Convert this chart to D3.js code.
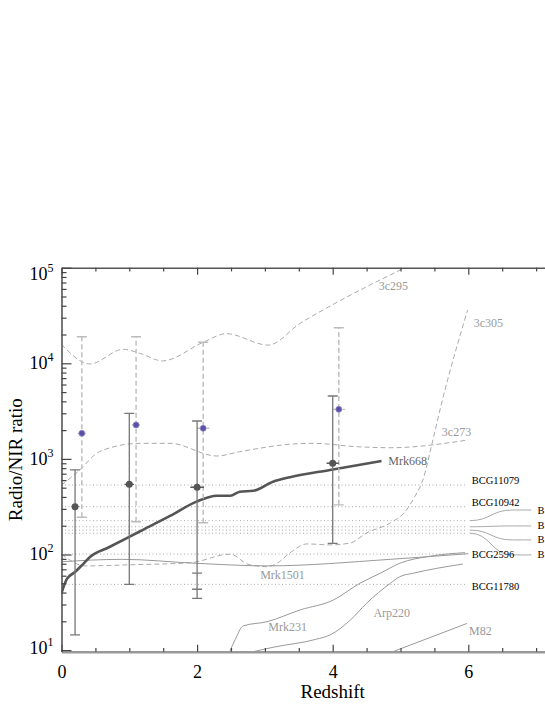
<!DOCTYPE html>
<html><head><meta charset="utf-8">
<script src="https://cdn.jsdelivr.net/npm/d3@7"></script>
<style>body{margin:0;background:#fff}svg{display:block}
svg text{font-family:"Liberation Serif","Tinos","Times New Roman","Nimbus Roman","DejaVu Serif",serif;}</style>
</head><body><svg id="c" width="545" height="705"></svg>
<script>
// ---------------- data ----------------
const xMajorTicks = [0, 2, 4, 6];
const xMinorTicks = [0.5, 1, 1.5, 2.5, 3, 3.5, 4.5, 5, 5.5, 6.5, 7, 7.5];
const yExponents = [1, 2, 3, 4, 5];

const t3c295 = [[0,15800],[0.42,9850],[0.91,14000],[1.16,12700],[1.49,10600],[2.09,16600],[2.43,20400],[3.05,15500],[3.52,26200],[3.99,40700],[4.6,68700],[4.85,84000],[5.06,100000]];
const t3c273 = [[0,533],[0.27,766],[0.52,1146],[0.72,1309],[1.16,1455],[1.6,1455],[2.29,1072],[2.63,1189],[3.42,1432],[3.71,1455],[4.35,1343],[4.85,1309],[6.0,1578]];
const t3c305 = [[0,101],[0.35,76],[1.01,78],[1.9,82],[2.49,101],[2.75,79],[3.03,74.5],[3.18,81],[3.37,104],[3.62,129],[3.96,126],[4.26,132],[4.5,168],[4.85,214],[5.07,281],[5.21,403],[5.33,602],[5.46,1397],[5.6,3664],[5.99,36140]];
const tMrk1501 = [[0,84],[0.89,89],[1.97,81],[3.03,76],[4.85,89],[5.5,96],[6.0,102]];
const tMrk231 = [[2.47,9.3],[2.56,12.8],[2.68,17.9],[3.03,19.8],[3.52,26.3],[4.01,33.4],[4.4,50],[4.7,63.6],[4.99,81],[5.44,96],[5.95,104.5]];
const tArp220 = [[2.74,9.3],[3.12,10.7],[3.76,13],[3.96,14.4],[4.26,20.6],[4.5,30.9],[4.85,50],[4.99,58.6],[5.18,63.5],[5.92,79.4]];
const tM82 = [[4.85,9.4],[5.98,19]];
const tMrk668 = [[0,39.5],[0.08,55.5],[0.2,65.6],[0.3,77],[0.42,94.2],[0.7,119],[1.16,175],[1.6,253],[1.99,357],[2.29,412],[2.49,412],[2.63,454],[2.83,465],[3.12,578],[3.37,643],[3.96,766],[4.72,950]];

const bcgNames = ["BCG11079", "BCG10942", "BCG2596", "BCG11780"];
const bcgValues = [533, 316, 101, 48.7];
const bcgLabelValues = [588, 352, 99, 46.8];
const bcgHiddenValues = [226, 195, 180, 167];
const bcgHiddenLabelValues = [292, 199, 142, 99];
const bcgHiddenText = ["B", "B", "B", "B"];

const darkZ = [0.2, 1.0, 2.0, 4.0];
const darkVal = [316, 542, 505, 900];
const darkHi = [766, 3000, 2490, 4550];
const darkLo = [14.4, 48.7, 34.8, 131];
const darkZErr = [0.05, 0.07, 0.1, 0.09];
const extraZ = [2.0], extraLo = [43.3], extraHi = [63.8];

const blueZ = [0.3, 1.1, 2.09, 4.09];
const blueVal = [1850, 2265, 2090, 3300];
const blueHi = [18970, 18970, 16600, 23550];
const blueLo = [245, 220, 215, 330];
const blueZErr = [0.06, 0.06, 0.09, 0.09];

const templateLabels = [
  ["3c295", 4.68, 64400], ["3c305", 6.08, 26300], ["3c273", 5.61, 1910],
  ["Mrk1501", 2.93, 61], ["Mrk231", 3.05, 17.5], ["Arp220", 4.6, 24.4], ["M82", 6.01, 15.9]
];
const mrk668Label = ["Mrk668", 4.82, 950];

// ---------------- drawing ----------------
const svg = d3.select("#c");
svg.append("rect").attr("width",545).attr("height",705).attr("fill","#fff");
const L = 61.5, R = 603.9, T = 267.7, B = 651.7;
const x = d3.scaleLinear().domain([0, 8]).range([L, R]);
const y = d3.scaleLog().domain([9.62, 1e5]).range([B, T]);

svg.append("defs").append("clipPath").attr("id","clip")
  .append("rect").attr("x",L).attr("y",T).attr("width",R-L).attr("height",B-T);
const plot = svg.append("g").attr("clip-path","url(#clip)");

const line = d3.line().x(d=>x(d[0])).y(d=>y(d[1])).curve(d3.curveMonotoneX);

// dotted BCG levels
const allLevels = bcgValues.concat(bcgHiddenValues);
plot.selectAll("line.lvl").data(allLevels).join("line")
  .attr("x1", x(0)).attr("x2", x(5.98))
  .attr("y1", d=>y(d)).attr("y2", d=>y(d))
  .attr("stroke","#aaa").attr("stroke-width",1).attr("stroke-dasharray","1,2.5");

// connectors for the right-hand BCG labels
const bump = d3.line().x(d=>x(d[0])).y(d=>y(d[1])).curve(d3.curveBumpX);
bcgHiddenValues.forEach((v,i)=>{
  plot.append("path").attr("d", bump([[6.02,v],[6.65,bcgHiddenLabelValues[i]],[6.93,bcgHiddenLabelValues[i]]]))
    .attr("fill","none").attr("stroke","#aaa").attr("stroke-width",1);
});

// templates
[t3c295, t3c273, t3c305].forEach(t=>plot.append("path").attr("d", line(t)).attr("fill","none")
  .attr("stroke","#aaa").attr("stroke-width",1).attr("stroke-dasharray","5,3"));
[tMrk1501, tMrk231, tArp220, tM82].forEach(t=>plot.append("path").attr("d", line(t)).attr("fill","none")
  .attr("stroke","#999").attr("stroke-width",1));
plot.append("path").attr("d", line(tMrk668)).attr("fill","none")
  .attr("stroke","#555").attr("stroke-width",2.6);

// blue (dashed) error bars
blueZ.forEach((z,i)=>{
  const g = plot.append("g").attr("stroke","#bbb").attr("stroke-width",1.4).attr("fill","none");
  g.append("line").attr("x1",x(z)).attr("x2",x(z)).attr("y1",y(blueLo[i])).attr("y2",y(blueHi[i])).attr("stroke-dasharray","5,3");
  [blueLo[i], blueHi[i]].forEach(v=>g.append("line").attr("x1",x(z)-5).attr("x2",x(z)+5).attr("y1",y(v)).attr("y2",y(v)));
  g.append("line").attr("x1",x(z-blueZErr[i])).attr("x2",x(z+blueZErr[i])).attr("y1",y(blueVal[i])).attr("y2",y(blueVal[i])).attr("stroke-dasharray","3,2");
});
// dark error bars
darkZ.forEach((z,i)=>{
  const g = plot.append("g").attr("stroke","#777").attr("stroke-width",1.3);
  g.append("line").attr("x1",x(z)).attr("x2",x(z)).attr("y1",y(darkLo[i])).attr("y2",y(darkHi[i]));
  [darkLo[i], darkHi[i]].forEach(v=>g.append("line").attr("x1",x(z)-5).attr("x2",x(z)+5).attr("y1",y(v)).attr("y2",y(v)));
  g.append("line").attr("x1",x(z-darkZErr[i])).attr("x2",x(z+darkZErr[i])).attr("y1",y(darkVal[i])).attr("y2",y(darkVal[i])).attr("stroke","#555");
});
extraZ.forEach((z,i)=>{
  [extraLo[i], extraHi[i]].forEach(v=>plot.append("line").attr("x1",x(z)-5).attr("x2",x(z)+5).attr("y1",y(v)).attr("y2",y(v)).attr("stroke","#777").attr("stroke-width",1.3));
});
plot.selectAll("circle.dk").data(darkZ).join("circle")
  .attr("cx",d=>x(d)).attr("cy",(d,i)=>y(darkVal[i])).attr("r",3.5).attr("fill","#555");
plot.selectAll("circle.bl").data(blueZ).join("circle")
  .attr("cx",d=>x(d)).attr("cy",(d,i)=>y(blueVal[i])).attr("r",3).attr("fill","#5a50a8").attr("stroke","#8f89c4").attr("stroke-width",0.8);

// labels
const lab = svg.append("g");
templateLabels.forEach(([t,z,v])=>lab.append("text").attr("x",x(z)).attr("y",y(v)).attr("dominant-baseline","central")
  .attr("font-size",12).attr("fill","#999").text(t));
lab.append("text").attr("x",x(mrk668Label[1])).attr("y",y(mrk668Label[2])).attr("dominant-baseline","central")
  .attr("font-size",12).attr("fill","#666").text(mrk668Label[0]);
bcgNames.forEach((n,i)=>lab.append("text").attr("x",x(6.05)).attr("y",y(bcgLabelValues[i])).attr("dominant-baseline","central")
  .attr("font-size",10.5).attr("fill","#000").text(n));
bcgHiddenLabelValues.forEach((v,i)=>lab.append("text").attr("x",x(7.02)).attr("y",y(v)).attr("dominant-baseline","central")
  .attr("font-size",10.5).attr("fill","#000").text(bcgHiddenText[i]));

// axes
const ax = svg.append("g");
// bottom
const bMaj = d3.axisBottom(x).tickValues(xMajorTicks).tickSizeInner(-7).tickSizeOuter(0).tickPadding(14).tickFormat(d3.format("d"));
const gb = ax.append("g").attr("transform",`translate(0,${B})`).call(bMaj);
gb.attr("font-family",null).attr("font-size",null);
gb.select(".domain").attr("stroke","#999").attr("stroke-width",2.5);
gb.selectAll(".tick line").attr("stroke","#444").attr("stroke-width",1.2);
gb.selectAll(".tick text").attr("font-size",18).attr("fill","#000");
const bMin = d3.axisBottom(x).tickValues(xMinorTicks).tickSizeInner(-3.7).tickSizeOuter(0).tickFormat("");
const gbm = ax.append("g").attr("transform",`translate(0,${B})`).call(bMin);
gbm.select(".domain").remove();
gbm.selectAll(".tick line").attr("stroke","#444").attr("stroke-width",1.2);
// top
const tMaj = d3.axisTop(x).tickValues(xMajorTicks).tickSizeInner(-7).tickSizeOuter(0).tickFormat("");
const gt = ax.append("g").attr("transform",`translate(0,${T})`).call(tMaj);
gt.select(".domain").attr("stroke","#555").attr("stroke-width",1.5);
gt.selectAll(".tick line").attr("stroke","#444").attr("stroke-width",1.2);
const tMin = d3.axisTop(x).tickValues(xMinorTicks).tickSizeInner(-3.7).tickSizeOuter(0).tickFormat("");
const gtm = ax.append("g").attr("transform",`translate(0,${T})`).call(tMin);
gtm.select(".domain").remove();
gtm.selectAll(".tick line").attr("stroke","#444").attr("stroke-width",1.2);
// left
const majorY = yExponents.map(e=>Math.pow(10,e));
const minorY = [];
for (let e=0;e<5;e++) for (let k=2;k<=9;k++){ const v=k*Math.pow(10,e); if (v>=9.62 && v<1e5) minorY.push(v); }
const lMaj = d3.axisLeft(y).tickValues(majorY).tickSizeInner(-10).tickSizeOuter(0).tickFormat("");
const gl = ax.append("g").attr("transform",`translate(${L},0)`).call(lMaj);
gl.select(".domain").attr("stroke","#555").attr("stroke-width",1.6);
gl.selectAll(".tick line").attr("stroke","#444").attr("stroke-width",1.2);
const lMin = d3.axisLeft(y).tickValues(minorY).tickSizeInner(-5).tickSizeOuter(0).tickFormat("");
const glm = ax.append("g").attr("transform",`translate(${L},0)`).call(lMin);
glm.select(".domain").remove();
glm.selectAll(".tick line").attr("stroke","#444").attr("stroke-width",1.2);
// y tick labels with superscripts
yExponents.forEach(e=>{
  const ty = Math.min(Math.max(y(Math.pow(10,e)), T+6), B-4);
  const t = ax.append("text").attr("x",L-8).attr("y",ty+6).attr("text-anchor","end")
    .attr("font-size",18).attr("fill","#000");
  t.append("tspan").text("10");
  t.append("tspan").attr("font-size",12).attr("dy",-8).text(e);
});
// titles
ax.append("text").attr("x",(L+R)/2).attr("y",698).attr("text-anchor","middle")
  .attr("font-size",19).attr("fill","#000").text("Redshift");
ax.append("text").attr("transform",`translate(22,${(T+B)/2}) rotate(-90)`).attr("text-anchor","middle")
  .attr("font-size",19).attr("fill","#000").text("Radio/NIR ratio");
</script></body></html>
